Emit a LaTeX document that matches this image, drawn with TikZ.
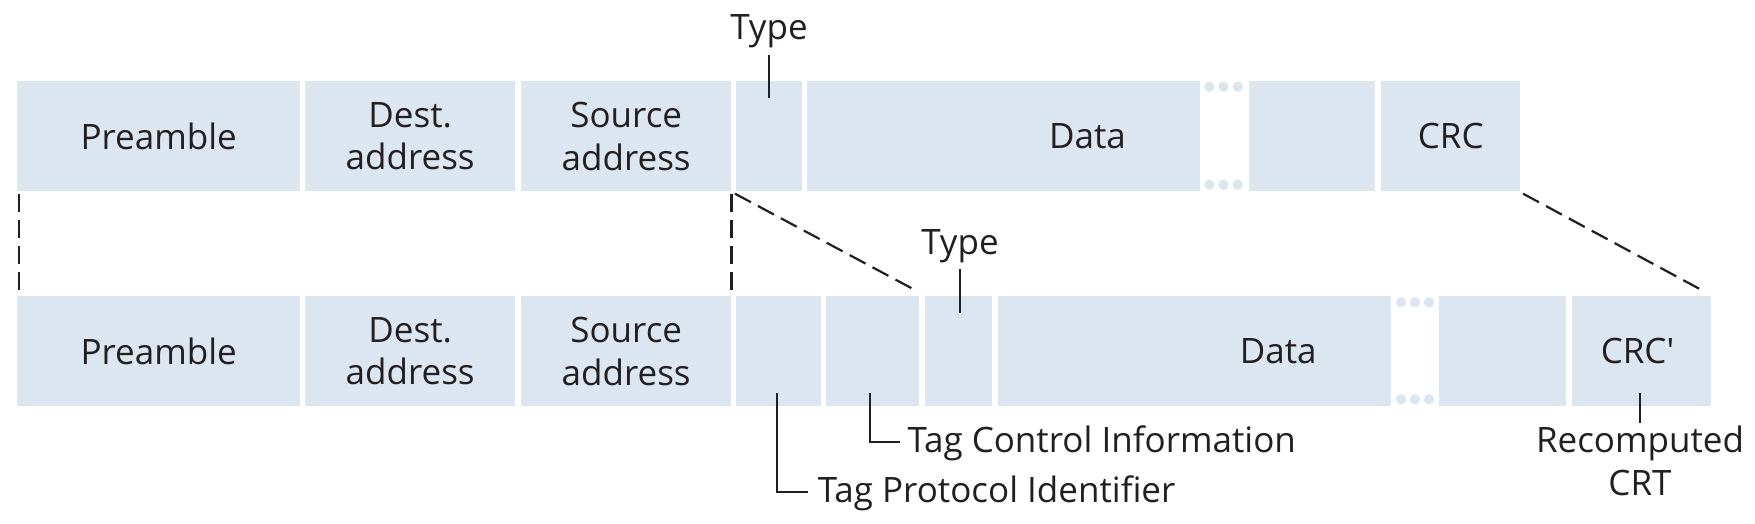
\documentclass[tikz,border=0pt]{standalone}
\usepackage{fontspec}
\setmainfont{Open Sans}
\usetikzlibrary{calc}
\definecolor{boxblue}{RGB}{219,230,241}
\definecolor{ink}{RGB}{35,31,32}
\tikzset{
 field/.style={fill=boxblue, draw=none, anchor=north west, inner sep=0pt, minimum height=110pt, text=ink, font=\fontsize{35}{42.6}\selectfont, align=center},
 lbl/.style={inner sep=0pt, text=ink, font=\fontsize{35}{42.6}\selectfont, align=center},
 dashline/.style={draw=ink, line width=2.2pt, dash pattern=on 18pt off 8pt},
 leader/.style={draw=ink, line width=2.2pt},
 dot/.style={fill=boxblue, draw=none, circle, minimum size=10.4pt, inner sep=0pt},
}
\begin{document}
\begin{tikzpicture}[x=1pt,y=-1pt]
\useasboundingbox (0,0) rectangle (1755,524);
% top frame
\node[field, minimum width=283pt] (T1) at (17,81) {Preamble};
\node[field, minimum width=210pt] (T2) at (305,81) {Dest.\\address};
\node[field, minimum width=210pt] (T3) at (521,81) {Source\\address};
\node[field, minimum width=66pt] (T4) at (736,81) {};
\node[field, minimum width=393pt] (T5) at (807,81) {};
\node[field, minimum width=126pt] (T6) at (1249,81) {};
\node[field, minimum width=139pt] (T7) at (1381,81) {CRC};
\node[lbl] (T5t) at (1087.5,136) {Data};
\node[dot] (td1) at (1209.3,86.7) {};
\node[dot] (td2) at (1223.5,86.7) {};
\node[dot] (td3) at (1237.7,86.7) {};
\node[dot] (td4) at (1209.3,184.7) {};
\node[dot] (td5) at (1223.5,184.7) {};
\node[dot] (td6) at (1237.7,184.7) {};
% bottom frame
\node[field, minimum width=283pt] (B1) at (17,296) {Preamble};
\node[field, minimum width=210pt] (B2) at (305,296) {Dest.\\address};
\node[field, minimum width=210pt] (B3) at (521,296) {Source\\address};
\node[field, minimum width=85pt] (B4) at (736,296) {};
\node[field, minimum width=93pt] (B5) at (826,296) {};
\node[field, minimum width=67pt] (B6) at (925,296) {};
\node[field, minimum width=393pt] (B7) at (998,296) {};
\node[field, minimum width=127pt] (B8) at (1439,296) {};
\node[field, minimum width=139pt] (B9) at (1572,296) {};
\node[lbl] (B9t) at (1637.5,351) {CRC\textquotesingle};
\node[lbl] (B7t) at (1278.3,351) {Data};
\node[dot] (bd1) at (1401,302.3) {};
\node[dot] (bd2) at (1415,302.3) {};
\node[dot] (bd3) at (1429,302.3) {};
\node[dot] (bd4) at (1401,399.3) {};
\node[dot] (bd5) at (1415,399.3) {};
\node[dot] (bd6) at (1429,399.3) {};
% dashed guides
\draw[dashline] ([xshift=2pt,yshift=-2.3pt]T1.south west) -- ([xshift=2pt,yshift=4.3pt]B1.north west);
\draw[dashline] ([yshift=-2.3pt]T3.south east) -- ([yshift=4.3pt]B3.north east);
\draw[dashline] ([xshift=-1pt,yshift=-2.3pt]T4.south west) -- ([xshift=-1.3pt,yshift=4.3pt]B5.north east);
\draw[dashline] ([xshift=2.7pt,yshift=-2.3pt]T7.south east) -- ([xshift=-6.7pt,yshift=4.3pt]B9.north east);
% Type labels
\node[lbl, anchor=base] (ty1) at (769,39.3) {Type};
\coordinate (ty1e) at (769,97.7);
\draw[leader, shorten <=6.6pt] (ty1.south) -- (ty1e);
\node[lbl, anchor=base] (ty2) at (960,254) {Type};
\coordinate (ty2e) at (960,312.7);
\draw[leader, shorten <=6.6pt] (ty2.south) -- (ty2e);
% tag labels
\node[lbl, anchor=base west] (tpid) at (817.7,502.7) {Tag Protocol Identifier};
\coordinate (tpida) at (776.7,393.3);
\draw[leader] (tpida) |- ([xshift=-10pt,yshift=11pt]tpid.base west);
\node[lbl, anchor=base west] (tci) at (907.3,452.7) {Tag Control Information};
\coordinate (tcia) at (869.7,393.3);
\draw[leader] (tcia) |- ([xshift=-7.6pt,yshift=10.7pt]tci.base west);
% recomputed
\node[lbl, anchor=north] (rc) at (1640,426) {Recomputed\\CRT};
\coordinate (rca) at (1640,393.3);
\draw[leader] (rca) -- ([yshift=2.7pt]rc.north);
\end{tikzpicture}
\end{document}
